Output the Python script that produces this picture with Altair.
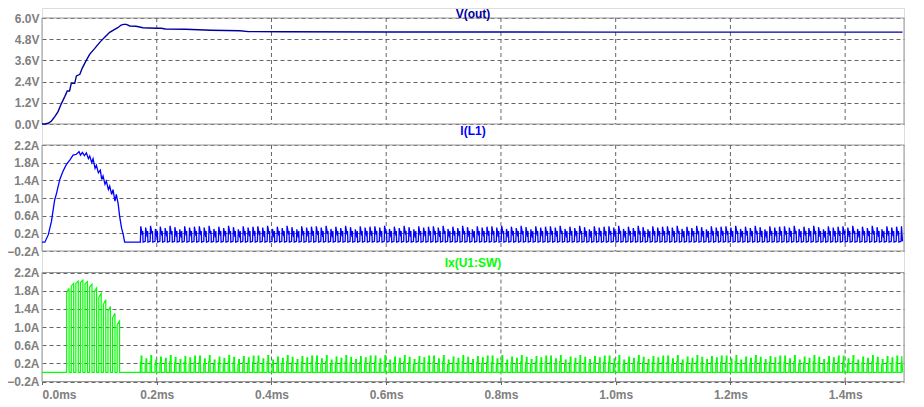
import altair as alt
import pandas as pd

# ---------------- data ----------------
# V(out)  (time in ms, volts)
vout_t = [0.0, 0.005, 0.0107, 0.0165, 0.0223, 0.028, 0.034, 0.0397, 0.044, 0.048,
          0.051, 0.057, 0.060, 0.066, 0.070, 0.076, 0.083, 0.092, 0.1006, 0.1093,
          0.118, 0.126, 0.132, 0.138, 0.142, 0.147, 0.153, 0.164, 0.176, 0.199,
          0.208, 0.215, 0.25, 0.295, 0.345, 0.36, 0.42, 0.6, 1.0, 1.5]
vout_v = [0.0, 0.0, 0.04, 0.17, 0.42, 0.70, 1.17, 1.55, 1.87, 1.87,
          2.30, 2.30, 2.72, 2.81, 3.15, 3.53, 3.94, 4.28, 4.62, 4.91,
          5.19, 5.34, 5.45, 5.60, 5.64, 5.64, 5.55, 5.53, 5.45, 5.42,
          5.42, 5.38, 5.36, 5.31, 5.28, 5.23, 5.22, 5.21, 5.20, 5.20]

# I(L1) start-up envelope (ms, A)
il_t = [0.0, 0.005, 0.011, 0.0165, 0.022, 0.0252, 0.031, 0.0368, 0.0426, 0.0484,
        0.0542, 0.060, 0.0646, 0.0670, 0.0704, 0.0739, 0.0774, 0.0809, 0.0832, 0.0867,
        0.0890, 0.0925, 0.0948, 0.0983, 0.1017, 0.1041, 0.1064, 0.1098, 0.1122, 0.1157,
        0.1180, 0.1214, 0.1238, 0.1272, 0.1296, 0.1330, 0.1354, 0.1388, 0.1412, 0.1441,
        0.1715]
il_v = [0.0, 0.0, 0.17, 0.47, 0.95, 1.10, 1.42, 1.61, 1.76, 1.86,
        1.97, 1.99, 2.05, 1.97, 2.03, 1.96, 2.02, 1.89, 1.95, 1.80,
        1.89, 1.67, 1.74, 1.57, 1.63, 1.42, 1.50, 1.31, 1.38, 1.19,
        1.27, 1.08, 1.19, 0.93, 1.08, 0.85, 0.58, 0.31, 0.20, 0.0,
        0.0]

# Ix(U1:SW) start-up pulses: start time (ms), current at start / end of pulse (A)
sw_start = [0.0430, 0.0510, 0.0590, 0.0670, 0.0750, 0.0830, 0.0910, 0.0990,
            0.1070, 0.1150, 0.1230, 0.1310]
sw_lo = [1.75, 1.90, 1.96, 1.98, 1.95, 1.88, 1.78, 1.65, 1.50, 1.35, 1.20, 1.05]
sw_hi = [1.85, 1.96, 2.01, 2.03, 2.00, 1.94, 1.86, 1.74, 1.60, 1.45, 1.30, 1.13]
sw_width = 0.0042

# steady-state switching (after the start-up burst)
ss_start = 0.1715
ss_period = 0.0085
ss_end = 1.5
il_peaks = [0.36, 0.33, 0.37, 0.30, 0.35, 0.32, 0.37, 0.34, 0.29, 0.36, 0.33, 0.35]
il_mid = [0.16, 0.12, 0.18, 0.11, 0.15, 0.13, 0.17, 0.12, 0.10, 0.15, 0.13, 0.14]
sw_peaks = [0.36, 0.30, 0.37, 0.27, 0.34, 0.31, 0.37, 0.33, 0.28, 0.35, 0.32, 0.36]
sw_step = [0.22, 0.19, 0.24, 0.17, 0.21, 0.20, 0.23, 0.21, 0.18, 0.22, 0.20, 0.22]

# titles, colours, axes
titles = ["V(out)", "I(L1)", "Ix(U1:SW)"]
colors = ["#0000A0", "#0000FF", "#00FF00"]
x_ticks = [0.0, 0.2, 0.4, 0.6, 0.8, 1.0, 1.2, 1.4]
v_ticks = [0.0, 1.2, 2.4, 3.6, 4.8, 6.0]
a_ticks = [-0.2, 0.2, 0.6, 1.0, 1.4, 1.8, 2.2]
v_dom = [0.0, 6.0]
a_dom = [-0.2, 2.2]

# ---------------- build tables ----------------
vout_df = pd.DataFrame({"t": vout_t, "v": vout_v})
vout_df["i"] = range(len(vout_df))

il_rows = list(zip(il_t, il_v))
sw_rows = [(0.0, 0.0)]
for s, lo, hi in zip(sw_start, sw_lo, sw_hi):
    sw_rows += [(s, 0.0), (s, lo), (s + sw_width, hi), (s + sw_width, 0.0)]
sw_rows.append((ss_start, 0.0))

n = 0
t0 = ss_start
while t0 < ss_end:
    k = n % len(il_peaks)
    p = ss_period
    il_rows += [(t0 + 0.08 * p, il_peaks[k]), (t0 + 0.4 * p, il_mid[k]),
                (t0 + 0.48 * p, 0.25), (t0 + 0.55 * p, 0.0), (min(t0 + p, ss_end), 0.02)]
    sw_rows += [(t0, 0.0), (t0, sw_step[k]), (t0 + 0.15 * p, sw_step[k]),
                (t0 + 0.15 * p, sw_peaks[k]), (t0 + 0.3 * p, sw_peaks[k]),
                (t0 + 0.3 * p, 0.0), (min(t0 + p, ss_end), 0.0)]
    n += 1
    t0 += ss_period

il_df = pd.DataFrame(il_rows, columns=["t", "v"])
il_df = il_df[il_df.t <= ss_end].copy()
il_df["i"] = range(len(il_df))
sw_df = pd.DataFrame(sw_rows, columns=["t", "v"])
sw_df = sw_df[sw_df.t <= ss_end].copy()
sw_df["i"] = range(len(sw_df))

# ---------------- chart ----------------
FONT = "Liberation Sans"
W = 862
H = 373.5
xdom = [0, 1.5026]
xs = alt.Scale(domain=xdom, nice=False, zero=False)
GRID = "#666666"
LABEL = "#808080"

# pixel extent of each panel inside the plot area (top, bottom)
panel_px = [(10, 116), (137, 243), (264.5, 373.5)]


def yscale(dom, k):
    top, bot = panel_px[k]
    return alt.Scale(domain=dom, range=[bot, top], nice=False, zero=False)


def panel_layers(df, k, dom, ticks, unit, width_px, show_x):
    ys = yscale(dom, k)
    box = pd.DataFrame({"a": [xdom[0]], "b": [xdom[1]], "lo": [dom[0]], "hi": [dom[1]]})
    grid = pd.DataFrame({"t": x_ticks[1:], "lo": dom[0], "hi": dom[1]})
    border = alt.Chart(box).mark_rect(fillOpacity=0, stroke="#999999", strokeWidth=1).encode(
        x=alt.X("a:Q", scale=xs, axis=None), x2="b:Q",
        y=alt.Y("hi:Q", scale=ys, axis=None), y2="lo:Q")
    vgrid = alt.Chart(grid).mark_rule(color=GRID, strokeDash=[4, 3], strokeWidth=1).encode(
        x=alt.X("t:Q", scale=xs, axis=None),
        y=alt.Y("hi:Q", scale=ys, axis=None), y2="lo:Q")
    if show_x:
        x_axis = alt.Axis(values=x_ticks, grid=False, domain=False, title=None,
                          ticks=True, tickSize=5, tickColor=GRID, tickDash=[3, 2],
                          labelExpr="format(datum.value, '.1f') + 'ms'",
                          labelPadding=3, labelColor=LABEL, labelFont=FONT,
                          labelFontSize=12, labelFontWeight="bold")
    else:
        x_axis = None
    y_axis = alt.Axis(values=ticks, grid=True, gridDash=[4, 3], gridColor=GRID,
                      gridOpacity=1, domain=False, ticks=False, title=None,
                      orient="left",
                      labelExpr="format(datum.value, '.1f') + '" + unit + "'",
                      labelPadding=3, labelColor=LABEL, labelFont=FONT,
                      labelFontSize=12, labelFontWeight="bold")
    line = alt.Chart(df).mark_line(color=colors[k], strokeWidth=width_px).encode(
        x=alt.X("t:Q", scale=xs, axis=x_axis),
        y=alt.Y("v:Q", scale=ys, axis=y_axis),
        order=alt.Order("i:Q"),
    )
    return [border, vgrid, line]


title_y = [9.5, 123, 255]
title_base = ["alphabetic", "middle", "middle"]
title_layers = []
for k in range(3):
    tdf = pd.DataFrame({"label": [titles[k]]})
    title_layers.append(
        alt.Chart(tdf).mark_text(color=colors[k], font=FONT, fontSize=12, fontWeight="bold",
                                 align="center", baseline=title_base[k]).encode(
            x=alt.value(W / 2), y=alt.value(title_y[k]), text="label:N"))

layers = (panel_layers(vout_df, 0, v_dom, v_ticks, "V", 1.4, False)
          + panel_layers(il_df, 1, a_dom, a_ticks, "A", 1.3, False)
          + panel_layers(sw_df, 2, a_dom, a_ticks, "A", 1.2, True)
          + title_layers)

chart = alt.layer(*layers).resolve_scale(y="independent").resolve_axis(
    y="independent", x="independent"
).properties(
    width=W, height=H,
    autosize=alt.AutoSizeParams(type="none"),
    padding={"left": 34, "top": 0, "right": 12, "bottom": 24},
).configure_view(strokeWidth=0).configure(background="white")

chart.save("out.html", embed_options={"renderer": "svg", "actions": False})
